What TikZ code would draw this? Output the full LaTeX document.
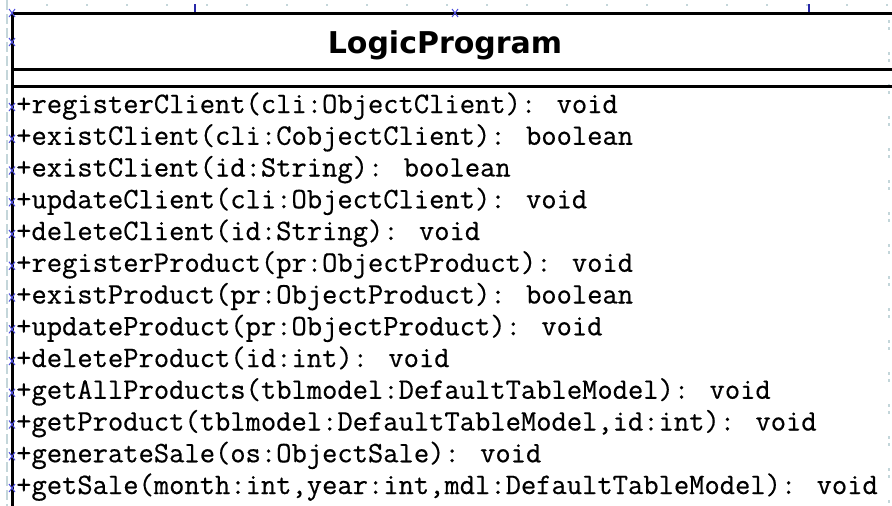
\documentclass[tikz,border=0pt]{standalone}
\usepackage{fontspec}
\newfontfamily\umlmono{Latin Modern Mono}[FakeBold=0.5]
\newfontfamily\umltitle{DejaVu Sans}
\definecolor{gridc}{HTML}{C4D6DA}
\definecolor{handle}{HTML}{5050E0}
\definecolor{tickc}{HTML}{2828A8}
\tikzset{
  border/.style={line width=3pt, black},
  gridline/.style={gridc, line width=1.2pt},
  classtitle/.style={inner sep=0pt, anchor=base, font=\umltitle\bfseries\fontsize{30}{36}\selectfont},
  method/.style={inner sep=0pt, anchor=base west, font=\umlmono\fontsize{29.7}{32}\selectfont},
  handlemark/.style={handle, line width=1pt},
}
\begin{document}
\begin{tikzpicture}[x=1pt, y=-1pt]
  \useasboundingbox (0,0) rectangle (892,506);
  \fill[white] (0,0) rectangle (892,506);

  % background grid of the editor
  \foreach \gx in {7,47,...,887}
    \fill[gridc] (\gx-1,4) rectangle (\gx+1,6);
  \draw[gridline, dash pattern=on 10pt off 4pt] (7,0) -- (7,506);
  \draw[gridline, dash pattern=on 3pt off 4pt on 3pt off 22pt] (889,20) -- (889,506);

  % selection ticks above the class
  \draw[tickc, line width=2pt] (195,4) -- (195,12);
  \draw[tickc, line width=2pt] (809,4) -- (809,12);

  % class box: outer border and compartment separators
  \coordinate (tl) at (12,13);
  \coordinate (tr) at (892,13);
  \coordinate (bl) at (12,506);
  \draw[border] (tr) -- (tl) -- (bl);
  \draw[border] (12,69) -- (892,69);
  \draw[border] (12,86) -- (892,86);

  % class name
  \node[classtitle] (title) at (445,53) {LogicProgram};

  % operations
  \foreach \m [count=\i from 0] in {
    {+registerClient(cli:ObjectClient): void},
    {+existClient(cli:CobjectClient): boolean},
    {+existClient(id:String): boolean},
    {+updateClient(cli:ObjectClient): void},
    {+deleteClient(id:String): void},
    {+registerProduct(pr:ObjectProduct): void},
    {+existProduct(pr:ObjectProduct): boolean},
    {+updateProduct(pr:ObjectProduct): void},
    {+deleteProduct(id:int): void},
    {+getAllProducts(tblmodel:DefaultTableModel): void},
    {+getProduct(tblmodel:DefaultTableModel,id:int): void},
    {+generateSale(os:ObjectSale): void},
    {+getSale(month:int,year:int,mdl:DefaultTableModel): void}}
  {
    \node[method] (m\i) at (16,{113+31.75*\i}) {\m};
    \draw[handlemark] (9,{103+31.75*\i}) -- (15,{111+31.75*\i})
                      (9,{111+31.75*\i}) -- (15,{103+31.75*\i});
  }

  % handles on the box outline
  \foreach \hx/\hy in {12/13, 12/42, 455/13}
    \draw[handlemark] (\hx-3,\hy-4) -- (\hx+3,\hy+4) (\hx-3,\hy+4) -- (\hx+3,\hy-4);
\end{tikzpicture}
\end{document}
